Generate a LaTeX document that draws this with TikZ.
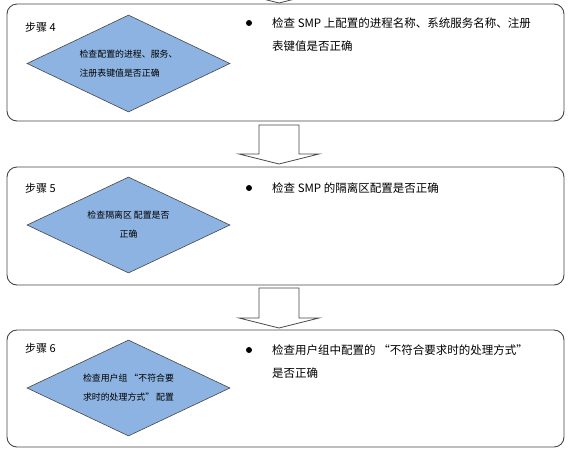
\documentclass[tikz,border=0pt]{standalone}
\usepackage{fontspec}
\setmainfont{Noto Sans CJK SC}
\usetikzlibrary{shapes.geometric}
\definecolor{diafill}{RGB}{141,179,226}
\definecolor{edge}{RGB}{70,70,70}
\begin{document}
\begin{tikzpicture}[x=1pt,y=-1pt,
  box/.style={draw=edge, line width=0.9pt, rounded corners=10pt, fill=white, minimum width=557pt, inner sep=0pt},
  dia/.style={diamond, draw=edge, line width=0.6pt, fill=diafill, minimum width=203pt, minimum height=97pt, inner sep=0pt, aspect=2.09, font=\fontsize{8.9pt}{19pt}\selectfont},
  steplbl/.style={anchor=west, inner sep=0pt, font=\fontsize{11pt}{13pt}\selectfont},
  txt/.style={anchor=west, inner sep=0pt, font=\fontsize{11.5pt}{14pt}\selectfont},
  bullet/.style={circle, fill=black, inner sep=0pt, minimum size=6pt},
  blockarrow/.style={draw=edge, line width=0.8pt, fill=white, line join=miter}
]
\useasboundingbox (0,0) rectangle (573,451);
\clip (0,0) rectangle (573,451);

% partial arrow head at the top
\draw[blockarrow] (239,-7) -- (279,3) -- (319,-7);

% Step 4
\node[box, minimum height=117pt] (b1) at (285.5,62.5) {};
\node[dia, align=left] (d1) at (128.5,63.5) {检查配置的进程、服务、\\注册表键值是否正确};
\node[steplbl] (s1) at (25,27) {步骤 4};
\node[bullet] (u1) at (249,23) {};
\node[txt] (t1a) at (272,23) {检查 SMP 上配置的进程名称、系统服务名称、注册};
\node[txt] (t1b) at (272,46) {表键值是否正确};

% arrow 1
\draw[blockarrow] (259,125) -- (299,125) -- (299,154) -- (319,154) -- (279,164) -- (239,154) -- (259,154) -- cycle;

% Step 5
\node[box, minimum height=118pt] (b2) at (285.5,226) {};
\node[dia, align=center, minimum height=96pt] (d2) at (128.5,225) {检查隔离区 配置是否\\正确};
\node[steplbl] (s2) at (25,188) {步骤 5};
\node[bullet] (u2) at (249,188) {};
\node[txt] (t2a) at (272,188) {检查 SMP 的隔离区配置是否正确};

% arrow 2
\draw[blockarrow] (259,288) -- (299,288) -- (299,318) -- (319,318) -- (279,328) -- (239,318) -- (259,318) -- cycle;

% Step 6
\node[box, minimum height=117pt] (b3) at (285.5,388.5) {};
\node[dia, align=center, minimum height=96pt] (d3) at (128.5,388) {检查用户组 “不符合要\\求时的处理方式” 配置};
\node[steplbl] (s3) at (25,348) {步骤 6};
\node[bullet] (u3) at (249,350) {};
\node[txt] (t3a) at (272,350) {检查用户组中配置的 “不符合要求时的处理方式”};
\node[txt] (t3b) at (272,373) {是否正确};
\end{tikzpicture}
\end{document}
